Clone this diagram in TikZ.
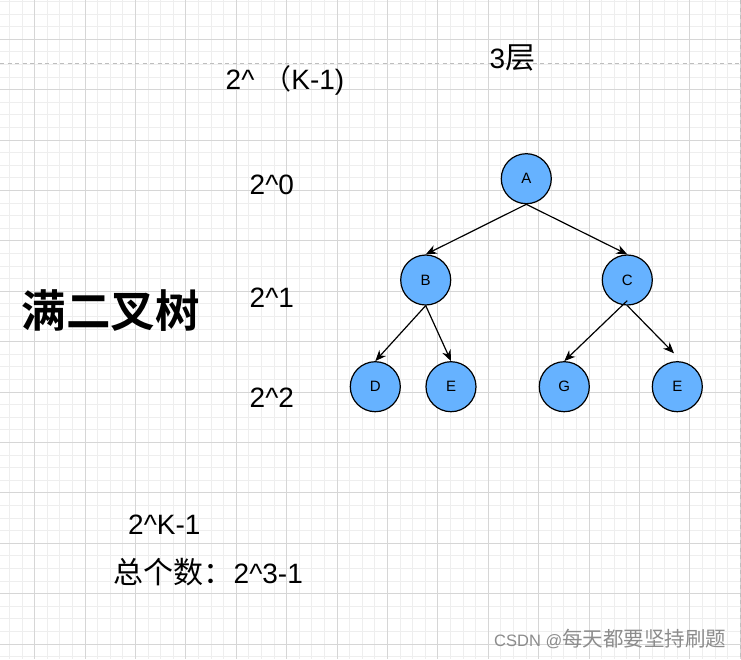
\documentclass[tikz,border=0pt]{standalone}
\usepackage{fontspec}
\setmainfont{Liberation Sans}
\newfontfamily\cjk{Noto Sans CJK SC}[BoldFont={Noto Sans CJK SC Bold}]
\usetikzlibrary{arrows.meta,calc}
\definecolor{gmajor}{RGB}{214,214,214}
\definecolor{gminor}{RGB}{238,238,238}
\definecolor{gdash}{RGB}{190,190,190}
\definecolor{nodefill}{HTML}{66B2FF}
\definecolor{wmark}{RGB}{140,140,140}
\tikzset{
  minorline/.style={gminor,line width=1pt},
  majorline/.style={gmajor,line width=1pt},
  pageline/.style={gdash,line width=1pt,dash pattern=on 4pt off 3.5pt},
  treenode/.style={circle,draw=black,line width=1.2pt,fill=nodefill,minimum size=50pt,inner sep=0pt,font=\fontsize{15}{15}\selectfont},
  arr/.style={line width=1.2pt,-{Stealth[length=11pt,width=9pt,inset=3.5pt]}},
  bigtxt/.style={inner sep=0pt,font=\fontsize{28}{28}\selectfont},
}
\newcommand{\cjkbig}{\cjk\fontsize{30}{30}\selectfont}
\begin{document}
\begin{tikzpicture}[x=1pt,y=-1pt]
\useasboundingbox (0,0) rectangle (741,659);
\fill[white] (0,0) rectangle (741,659);
% grid
\foreach \i in {0,...,58} {\draw[minorline] (9.4+12.6*\i,0) -- (9.4+12.6*\i,659);}
\foreach \j in {0,...,52} {\draw[minorline] (0,1.5+12.6*\j) -- (741,1.5+12.6*\j);}
\foreach \i in {0,...,14} {\draw[majorline] (34.6+50.4*\i,0) -- (34.6+50.4*\i,659);}
\foreach \j in {0,...,12} {\draw[majorline] (0,39.3+50.4*\j) -- (741,39.3+50.4*\j);}
\draw[pageline] (0,63.3) -- (741,63.3);
\draw[pageline] (740,0) -- (740,659);
% tree
\node[treenode] (A) at (526.3,178.7) {A};
\node[treenode] (B) at (425.7,280) {B};
\node[treenode] (C) at (627.3,280) {C};
\node[treenode] (D) at (375.3,386.7) {D};
\node[treenode] (E1) at (451,386.7) {E};
\node[treenode] (G) at (564.3,386.7) {G};
\node[treenode] (E2) at (677.3,386.7) {E};
\coordinate (e2t) at (674,353.3);
\draw[arr] (A.south) -- (B.north);
\draw[arr] (A.south) -- (C.north);
\draw[arr] (B.south) -- (D.north);
\draw[arr] (B.south) -- (E1.north);
\draw[arr] ([yshift=5pt]C.south) -- (G.north);
\draw[arr] (C.south) -- (e2t);
% texts
\node[bigtxt,anchor=base west] (t1) at (225.5,89.3) {2\^{}\kern9pt{\cjk （}K-1)};
\node[bigtxt,anchor=base west] (t2) at (489.5,68.3) {3{\cjkbig 层}};
\node[bigtxt,anchor=base west] (t3) at (249.5,194) {2\^{}0};
\node[bigtxt,anchor=base west] (t4) at (249.5,307.7) {2\^{}1};
\node[bigtxt,anchor=base west] (t5) at (249.5,407.7) {2\^{}2};
\node[bigtxt,anchor=base west] (t6) at (128,534.3) {2\^{}K-1};
\node[bigtxt,anchor=base west] (t7) at (113.5,583.3) {{\cjkbig 总个数：}2\^{}3-1};
\node[inner sep=0pt,font=\cjk\bfseries\fontsize{44.5}{44.5}\selectfont] (title) at (110.7,311) {满二叉树};
\node[inner sep=0pt,anchor=base west,text=wmark] (wm) at (494,646.7) {\fontsize{16.5}{16.5}\selectfont CSDN @{\cjk\fontsize{20.5}{20.5}\selectfont 每天都要坚持刷题}};
\end{tikzpicture}
\end{document}
